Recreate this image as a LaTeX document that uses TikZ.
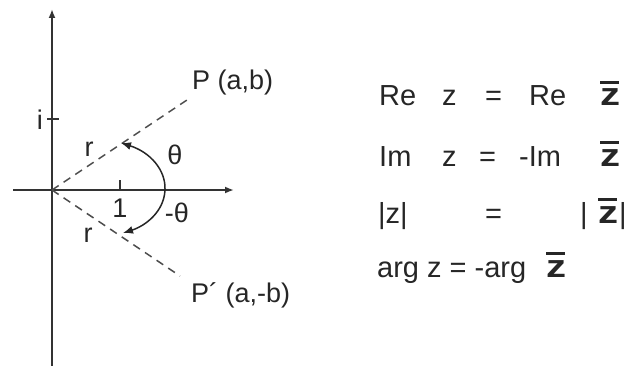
\documentclass[tikz,border=0pt]{standalone}
\usepackage{fontspec}
\setmainfont{Liberation Sans}
\usetikzlibrary{arrows.meta}
\newcommand{\zbarsym}{{\fontsize{32}{36}\selectfont\bfseries\scalebox{1.25}[1]{\makebox[0pt][l]{\rule[0.7em]{0.48em}{2.6pt}}z}}}
\tikzset{
  axis/.style={draw=black!80, line width=1.8pt, -{Latex[length=9pt,width=7pt]}},
  dashln/.style={draw=black!70, line width=1.5pt, dash pattern=on 8pt off 6pt},
  lbl/.style={font=\fontsize{27}{31}\selectfont, text=black!85, inner sep=0pt},
  eq/.style={font=\fontsize{29}{33}\selectfont, text=black!85, inner sep=0pt, anchor=base west},
  arcln/.style={draw=black!85, line width=1.5pt, {Latex[length=10pt,width=8pt]}-{Latex[length=10pt,width=8pt]}}
}
\begin{document}
\begin{tikzpicture}[x=1pt,y=-1pt]
\useasboundingbox (0,0) rectangle (628,366);
% axes
\coordinate (O) at (52,190);
\coordinate (ybot) at (52,366);
\coordinate (ytop) at (52,9);
\coordinate (xleft) at (13,190);
\coordinate (xright) at (234,190);
\draw[axis] (ybot) -- (ytop);
\draw[axis] (xleft) -- (xright);
% ticks
\coordinate (ti1) at (47,119); \coordinate (ti2) at (59,119);
\draw[black!80, line width=1.5pt] (ti1) -- (ti2);
\coordinate (t11) at (120,180); \coordinate (t12) at (120,190);
\draw[black!80, line width=1.5pt] (t11) -- (t12);
\node[lbl, anchor=east] (ilbl) at (43,120) {i};
\node[lbl] (onelbl) at (120,208) {1};
% dashed rays
\coordinate (Pend) at (190,98);
\coordinate (Qend) at (180,276);
\draw[dashln] (O) -- (Pend);
\draw[dashln] (O) -- (Qend);
% arc with arrows
\coordinate (tipU) at (121,143);
\coordinate (tipL) at (123,233);
\coordinate (arcR) at (165,190);
\draw[arcln] (tipU) .. controls (150,152) and (166,170) .. (arcR) .. controls (164,212) and (145,226) .. (tipL);
% labels
\node[lbl] (r1) at (89,149) {r};
\node[lbl] (th1) at (175,155) {θ};
\node[lbl] (th2) at (177,213) {-θ};
\node[lbl] (r2) at (88,235) {r};
\node[lbl, anchor=base west] (Plbl) at (192,90) {P (a,b)};
\node[lbl, anchor=base west] (Qlbl) at (191,302) {P´ (a,-b)};
% equations
\node[eq] (e1a) at (379,106) {Re};
\node[eq] (e1b) at (442,106) {z};
\node[eq] (e1c) at (485,106) {=};
\node[eq] (e1d) at (529,106) {Re};
\node[eq] (e1e) at (600,106) {\zbarsym};
\node[eq] (e2a) at (379,166) {Im};
\node[eq] (e2b) at (442,166) {z};
\node[eq] (e2c) at (479,166) {=};
\node[eq] (e2d) at (519,166) {-Im};
\node[eq] (e2e) at (600,166) {\zbarsym};
\node[eq] (e3a) at (378,223) {|z|};
\node[eq] (e3c) at (485,223) {=};
\node[eq] (e3d) at (580,223) {|};
\node[eq] (e3e) at (598,223) {\zbarsym};
\node[eq] (e3f) at (619,223) {|};
\node[eq] (e4a) at (377,277) {arg z = -arg};
\node[eq] (e4b) at (546,277) {\zbarsym};
\end{tikzpicture}
\end{document}
